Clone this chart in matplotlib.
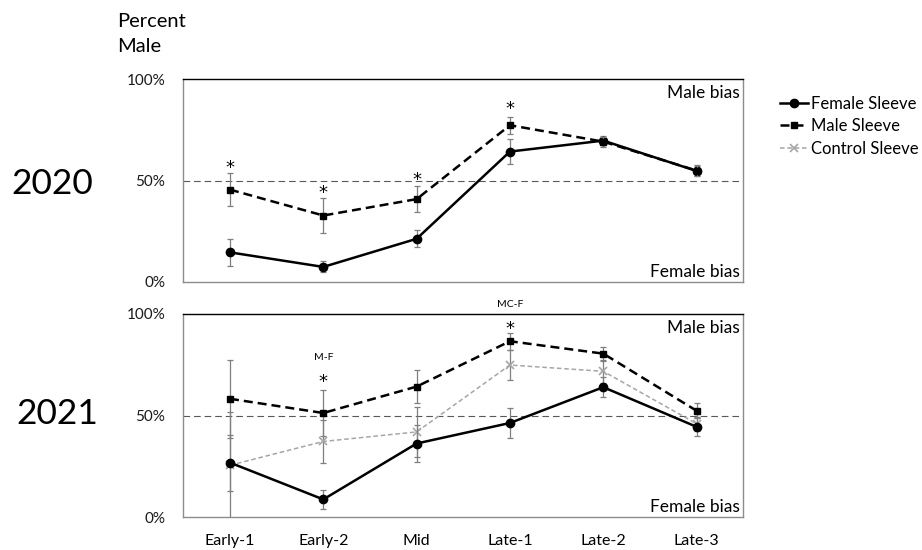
import matplotlib
matplotlib.use("Agg")
import matplotlib.pyplot as plt
from matplotlib.lines import Line2D
import numpy as np

plt.rcParams['font.family'] = ['Lato', 'DejaVu Sans']

categories = ["Early-1", "Early-2", "Mid", "Late-1", "Late-2", "Late-3"]

female_2020 = [14.5, 7.3, 21.2, 64.3, 69.7, 54.7]
female_2020_err = [6.5, 2.7, 4.3, 6.0, 2.2, 2.5]
male_2020 = [45.5, 32.7, 40.8, 77.3, 69.2, 54.9]
male_2020_err = [8.0, 8.8, 6.6, 4.2, 2.5, 2.8]

female_2021 = [26.9, 8.8, 36.3, 46.4, 64.0, 44.5]
female_2021_err = [13.8, 4.6, 9.2, 7.2, 4.8, 4.5]
male_2021 = [58.3, 51.3, 64.3, 86.6, 80.5, 52.4]
male_2021_err = [19.2, 11.5, 8.3, 4.1, 3.5, 3.6]
control_2021 = [25.6, 37.3, 42.0, 74.9, 71.8, 46.0]
control_2021_err = [26.0, 10.5, 12.5, 7.5, 5.5, 3.5]

stars_2020_idx = [0, 1, 2, 3]
stars_2020_y = [58.6, 46.3, 52.7, 87.8]
stars_2021_idx = [1, 3]
stars_2021_y = [69.0, 94.8]
labels_2021 = ["M-F", "MC-F"]
labels_2021_y = [78.8, 104.5]

yticks = [0, 50, 100]
ytick_labels = ["0%", "50%", "100%"]

W, H = 922, 550
fig = plt.figure(figsize=(W / 100, H / 100), dpi=100)

left = 183.3 / W
width = (743.3 - 183.3) / W
ax1 = fig.add_axes([left, 1 - 281.7 / H, width, 202.4 / H])
ax2 = fig.add_axes([left, 1 - 517.3 / H, width, 203.3 / H])

x = np.arange(len(categories))
ecol = '#7f7f7f'

female_style = dict(color='black', lw=1.8, marker='o', ms=6, ls='-')
male_style = dict(color='black', lw=1.8, marker='s', ms=5, ls=(0, (3.6, 2.0)))
control_style = dict(color='#a6a6a6', lw=1.1, marker='x', ms=6, mew=1.2, ls=(0, (3.0, 1.8)))


def draw_series(ax, vals, errs, style, z):
    ax.errorbar(x, vals, yerr=errs, fmt='none', ecolor=ecol, elinewidth=0.9,
                capsize=2.3, capthick=0.9, zorder=z - 0.5, clip_on=True)
    ax.plot(x, vals, zorder=z, **style)


def star(ax, xi, yv):
    ax.annotate("*", (xi, yv), xytext=(0, -3.5), textcoords='offset points',
                ha='center', va='center', fontsize=13, family='DejaVu Sans',
                annotation_clip=False)


for ax in (ax1, ax2):
    ax.set_xlim(-0.5, len(categories) - 0.5)
    ax.set_ylim(0, 100)
    ax.axhline(50, color='#595959', lw=0.8, ls=(0, (6, 3.5)), zorder=1)
    ax.set_yticks(yticks)
    ax.set_yticklabels(ytick_labels)
    ax.tick_params(axis='y', length=0, pad=13, labelsize=11, labelcolor='#1a1a1a')
    for s in ('left', 'right', 'bottom'):
        ax.spines[s].set_color('#8c8c8c')
        ax.spines[s].set_linewidth(1.0)
    ax.spines['top'].set_color('black')
    ax.spines['top'].set_linewidth(1.0)
    ax.text(0.993, 0.933, "Male bias", transform=ax.transAxes, ha='right', va='center', fontsize=12.5)
    ax.text(0.993, 0.05, "Female bias", transform=ax.transAxes, ha='right', va='center', fontsize=12.5)

ax1.set_xticks(x)
ax1.tick_params(axis='x', length=0, labelbottom=False)
ax2.set_xticks(x)
ax2.set_xticklabels(categories)
ax2.tick_params(axis='x', length=0, pad=12, labelsize=11.5)

draw_series(ax1, female_2020, female_2020_err, female_style, 4)
draw_series(ax1, male_2020, male_2020_err, male_style, 5)

draw_series(ax2, control_2021, control_2021_err, control_style, 3)
draw_series(ax2, female_2021, female_2021_err, female_style, 4)
draw_series(ax2, male_2021, male_2021_err, male_style, 5)

for i, yv in zip(stars_2020_idx, stars_2020_y):
    star(ax1, x[i], yv)
for i, yv in zip(stars_2021_idx, stars_2021_y):
    star(ax2, x[i], yv)
for i, lab, yv in zip(stars_2021_idx, labels_2021, labels_2021_y):
    ax2.text(x[i], yv, lab, ha='center', va='center', fontsize=7.5, clip_on=False)

fig.text(117 / W, 1 - 13 / H, "Percent\nMale", ha='left', va='top', fontsize=14.5, linespacing=1.55)
fig.text(52 / W, 1 - 184 / H, "2020", ha='center', va='center', fontsize=25.5)
fig.text(57 / W, 1 - 414 / H, "2021", ha='center', va='center', fontsize=25.5)

handles = [
    Line2D([], [], **female_style),
    Line2D([], [], **male_style),
    Line2D([], [], **control_style),
]
fig.legend(handles, ["Female Sleeve", "Male Sleeve", "Control Sleeve"],
           loc='upper left', bbox_to_anchor=(780 / W, 1 - 96 / H), frameon=False,
           fontsize=12, handlelength=1.7, handletextpad=0.15, labelspacing=0.38,
           borderaxespad=0, borderpad=0)

fig.savefig("out.png", dpi=100)
